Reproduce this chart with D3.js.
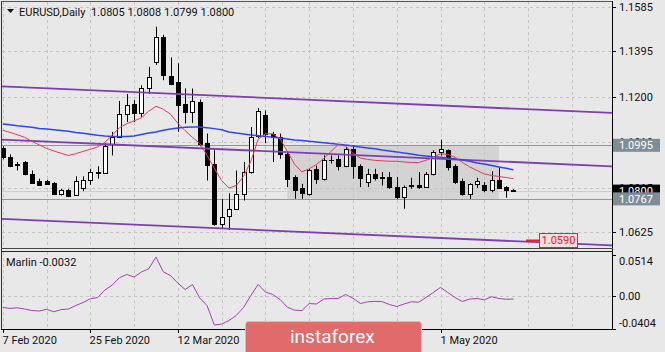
<!DOCTYPE html>
<html>
<head>
<meta charset="utf-8">
<script src="https://cdn.jsdelivr.net/npm/d3@7/dist/d3.min.js"></script>
<style>
  body { margin: 0; background: #e8e8e8; }
  svg { display: block; font-family: Roboto, "Liberation Sans", sans-serif; }
</style>
</head>
<body>
<div id="chart"></div>
<script>
// EURUSD daily, 7 Feb - 15 May 2020
const dates = [
  "2020-02-07","2020-02-10","2020-02-11","2020-02-12","2020-02-13","2020-02-14","2020-02-17","2020-02-18","2020-02-19","2020-02-20",
  "2020-02-21","2020-02-24","2020-02-25","2020-02-26","2020-02-27","2020-02-28","2020-03-02","2020-03-03","2020-03-04","2020-03-05",
  "2020-03-06","2020-03-09","2020-03-10","2020-03-11","2020-03-12","2020-03-13","2020-03-16","2020-03-17","2020-03-18","2020-03-19",
  "2020-03-20","2020-03-23","2020-03-24","2020-03-25","2020-03-26","2020-03-27","2020-03-30","2020-03-31","2020-04-01","2020-04-02",
  "2020-04-03","2020-04-06","2020-04-07","2020-04-08","2020-04-09","2020-04-10","2020-04-13","2020-04-14","2020-04-15","2020-04-16",
  "2020-04-17","2020-04-20","2020-04-21","2020-04-22","2020-04-23","2020-04-24","2020-04-27","2020-04-28","2020-04-29","2020-04-30",
  "2020-05-01","2020-05-04","2020-05-05","2020-05-06","2020-05-07","2020-05-08","2020-05-11","2020-05-12","2020-05-13","2020-05-14",
  "2020-05-15"];

const open = [
  1.0982,1.0945,1.0914,1.0924,1.0871,1.0842,1.0841,1.0836,1.0789,1.0803,
  1.0784,1.0814,1.0848,1.0877,1.0878,1.0999,1.1030,1.1130,1.1170,1.1133,
  1.1237,1.1351,1.1455,1.1290,1.1265,1.1170,1.1137,1.1180,1.1006,1.0914,
  1.0661,1.0693,1.0725,1.0786,1.0881,1.1033,1.1123,1.1045,1.1030,1.0959,
  1.0860,1.0813,1.0789,1.0895,1.0853,1.0931,1.0938,1.0909,1.0981,1.0909,
  1.0838,1.0871,1.0857,1.0860,1.0817,1.0777,1.0822,1.0827,1.0817,1.0874,
  1.0966,1.0974,1.0909,1.0841,1.0789,1.0831,1.0828,1.0803,1.0848,1.0817,
  1.0805];
const high = [
  1.0991,1.0956,1.0924,1.0928,1.0888,1.0853,1.0848,1.0838,1.0810,1.0810,
  1.0863,1.0863,1.0895,1.0906,1.1003,1.1052,1.1184,1.1213,1.1187,1.1251,
  1.1329,1.1500,1.1465,1.1369,1.1344,1.1237,1.1237,1.1190,1.1045,1.0974,
  1.0767,1.0791,1.0888,1.0924,1.1073,1.1153,1.1144,1.1052,1.1045,1.0969,
  1.0867,1.0831,1.0895,1.0909,1.0952,1.0952,1.0952,1.0988,1.0995,1.0914,
  1.0895,1.0895,1.0881,1.0881,1.0860,1.0824,1.0857,1.0881,1.0881,1.0974,
  1.1019,1.0977,1.0914,1.0853,1.0834,1.0857,1.0838,1.0884,1.0900,1.0821,
  1.0808];
const low = [
  1.0935,1.0902,1.0888,1.0867,1.0831,1.0824,1.0828,1.0783,1.0781,1.0777,
  1.0781,1.0800,1.0827,1.0853,1.0875,1.0952,1.1028,1.1094,1.1094,1.1116,
  1.1213,1.1337,1.1272,1.1251,1.1052,1.1088,1.1090,1.0991,1.0845,1.0653,
  1.0639,1.0635,1.0720,1.0760,1.0874,1.1025,1.1004,1.0924,1.0938,1.0817,
  1.0767,1.0767,1.0781,1.0831,1.0845,1.0917,1.0888,1.0902,1.0853,1.0817,
  1.0817,1.0845,1.0824,1.0810,1.0767,1.0725,1.0810,1.0810,1.0814,1.0867,
  1.0951,1.0888,1.0831,1.0781,1.0767,1.0814,1.0795,1.0795,1.0810,1.0772,
  1.0799];
const close = [
  1.0944,1.0906,1.0910,1.0871,1.0836,1.0827,1.0831,1.0786,1.0803,1.0781,
  1.0845,1.0848,1.0881,1.0880,1.0991,1.1029,1.1130,1.1166,1.1133,1.1237,
  1.1284,1.1455,1.1294,1.1258,1.1166,1.1137,1.1183,1.1002,1.0912,1.0661,
  1.0689,1.0725,1.0789,1.0881,1.1030,1.1140,1.1045,1.1030,1.0959,1.0853,
  1.0803,1.0791,1.0888,1.0853,1.0931,1.0933,1.0909,1.0981,1.0909,1.0857,
  1.0874,1.0857,1.0858,1.0817,1.0774,1.0817,1.0824,1.0817,1.0874,1.0966,
  1.0981,1.0902,1.0838,1.0786,1.0831,1.0841,1.0803,1.0848,1.0814,1.0806,
  1.0800];

// moving averages as drawn on the chart (red = fast, blue = slow)
const maFast = [
  1.1059,1.1050,1.1040,1.1029,1.1012,1.0997,1.0982,1.0971,1.0961,1.0952,
  1.0959,1.0969,1.0978,1.0988,1.1008,1.1038,1.1070,1.1087,1.1099,1.1112,
  1.1140,1.1161,1.1149,1.1127,1.1089,1.1057,1.1029,1.1003,1.0952,1.0897,
  1.0845,1.0813,1.0824,1.0862,1.0927,1.1020,1.1044,1.1044,1.1023,1.0969,
  1.0914,1.0882,1.0895,1.0914,1.0939,1.0969,1.0999,1.0991,1.0961,1.0941,
  1.0935,1.0931,1.0929,1.0927,1.0927,1.0924,1.0922,1.0922,1.0931,1.0944,
  1.0959,1.0956,1.0944,1.0922,1.0903,1.0888,1.0873,1.0867,1.0862,1.0858,
  1.0853];
const maSlow = [
  1.1086,1.1082,1.1078,1.1075,1.1072,1.1067,1.1064,1.1061,1.1058,1.1055,
  1.1050,1.1046,1.1042,1.1038,1.1035,1.1033,1.1032,1.1032,1.1035,1.1041,
  1.1047,1.1052,1.1059,1.1064,1.1069,1.1072,1.1073,1.1073,1.1070,1.1066,
  1.1061,1.1052,1.1047,1.1043,1.1039,1.1036,1.1033,1.1029,1.1026,1.1022,
  1.1018,1.1015,1.1012,1.1009,1.1006,1.1003,1.0999,1.0996,1.0992,1.0988,
  1.0984,1.0980,1.0975,1.0971,1.0967,1.0962,1.0958,1.0953,1.0949,1.0946,
  1.0944,1.0941,1.0937,1.0932,1.0927,1.0920,1.0915,1.0909,1.0903,1.0897,
  1.0891];

const marlin = [
  -0.0138,-0.0148,-0.0141,-0.0156,-0.0175,-0.0181,-0.0160,-0.0190,-0.0163,-0.0156,
  -0.0113,-0.0076,-0.0029,-0.0014,0.0079,0.0141,0.0232,0.0272,0.0241,0.0303,
  0.0342,0.0489,0.0306,0.0259,0.0166,0.0086,0.0148,-0.0020,-0.0113,-0.0355,
  -0.0342,-0.0299,-0.0237,-0.0138,0.0011,0.0148,0.0055,0.0024,-0.0038,-0.0132,
  -0.0171,-0.0175,-0.0088,-0.0094,-0.0032,-0.0026,-0.0026,0.0024,-0.0022,-0.0088,
  -0.0067,-0.0061,-0.0065,-0.0100,-0.0125,-0.0094,-0.0066,-0.0072,-0.0014,0.0048,
  0.0113,0.0048,-0.0014,-0.0063,-0.0032,-0.0026,-0.0042,-0.0004,-0.0026,-0.0035,
  -0.0032];

const priceTicks = [1.1585, 1.1395, 1.1200, 1.1010, 1.0815, 1.0625];
const marlinTicks = [0.0514, 0.00, -0.0404];
// date labels that are not hidden by the watermark
const dateTickBars = [0, 12, 24, 60];

// analyst objects: channel (bar index, price pairs), levels, zone
const channelTop = [[0, 1.1246], [70, 1.1151]];
const channelMid = [[0, 1.1019], [70, 1.0924]];
const channelBot = [[0, 1.0682], [70, 1.0587]];
const levels = [1.0995, 1.0767];
const zoneBars = [39, 68];
const zonePrices = [1.0995, 1.0767];
const target = 1.0590;

const W = 665, H = 352;
const plotL = 2, plotR = 612, mainT = 2, mainB = 247.5, subT = 252, subB = 329;
const n = dates.length;
const last = n - 1;

const svg = d3.select("#chart").append("svg")
  .attr("width", W)
  .attr("height", H);

svg.append("rect").attr("width", W).attr("height", H).attr("fill", "#e8e8e8");

const x = d3.scaleLinear().domain([-0.1, 83.5]).range([plotL, plotR]);
const y = d3.scaleLinear().domain([1.0560, 1.1605]).range([mainB, mainT]);
const ym = d3.scaleLinear().domain([-0.0404, 0.0514]).range([subB, 255]);
const px = i => Math.round(x(i)) + 0.5;

const defs = svg.append("defs");
defs.append("clipPath").attr("id", "clipMain")
  .append("rect").attr("x", plotL).attr("y", mainT).attr("width", plotR - plotL).attr("height", mainB - mainT);
defs.append("clipPath").attr("id", "clipSub")
  .append("rect").attr("x", plotL).attr("y", subT).attr("width", plotR - plotL).attr("height", subB - subT);

const main = svg.append("g").attr("clip-path", "url(#clipMain)");
const sub = svg.append("g").attr("clip-path", "url(#clipSub)");

// shaded zone
main.append("rect")
  .attr("x", x(zoneBars[0]))
  .attr("y", y(zonePrices[0]))
  .attr("width", x(zoneBars[1]) - x(zoneBars[0]))
  .attr("height", y(zonePrices[1]) - y(zonePrices[0]))
  .attr("fill", "#d3d3d3");

// grid
const gridBars = d3.range(0, 84, 6);
[main, sub].forEach((g, k) => {
  g.selectAll(".vg").data(gridBars).enter().append("line")
    .attr("x1", d => px(d)).attr("x2", d => px(d))
    .attr("y1", k ? subT : mainT).attr("y2", k ? subB : mainB)
    .attr("stroke", "#c4c4c4").attr("stroke-dasharray", "3,3");
});
main.selectAll(".hg").data(priceTicks).enter().append("line")
  .attr("x1", plotL).attr("x2", plotR)
  .attr("y1", d => Math.round(y(d)) + 0.5).attr("y2", d => Math.round(y(d)) + 0.5)
  .attr("stroke", "#c4c4c4").attr("stroke-dasharray", "3,3");
sub.append("line")
  .attr("x1", plotL).attr("x2", plotR)
  .attr("y1", Math.round(ym(0)) + 0.5).attr("y2", Math.round(ym(0)) + 0.5)
  .attr("stroke", "#c4c4c4").attr("stroke-dasharray", "3,3");

// bid line and horizontal levels
main.append("line")
  .attr("x1", plotL).attr("x2", plotR)
  .attr("y1", Math.round(y(close[last])) + 0.5).attr("y2", Math.round(y(close[last])) + 0.5)
  .attr("stroke", "#cfcfcf");
main.selectAll(".lvl").data(levels).enter().append("line")
  .attr("x1", plotL).attr("x2", plotR)
  .attr("y1", d => Math.round(y(d)) + 0.5).attr("y2", d => Math.round(y(d)) + 0.5)
  .attr("stroke", "#8b98a5");

// candles
const cg = main.append("g");
d3.range(n).forEach(i => {
  const up = close[i] >= open[i];
  const cx = px(i);
  cg.append("line")
    .attr("x1", cx).attr("x2", cx)
    .attr("y1", y(high[i])).attr("y2", y(low[i]))
    .attr("stroke", "#000");
  const top = Math.round(y(Math.max(open[i], close[i])));
  const bot = Math.round(y(Math.min(open[i], close[i])));
  if (bot - top < 1) {
    cg.append("line")
      .attr("x1", cx - 2.5).attr("x2", cx + 2.5)
      .attr("y1", top + 0.5).attr("y2", top + 0.5)
      .attr("stroke", "#000");
  } else {
    cg.append("rect")
      .attr("x", cx - 2).attr("y", top + 0.5)
      .attr("width", 4).attr("height", bot - top)
      .attr("fill", up ? "#fff" : "#000")
      .attr("stroke", "#000");
  }
});

// trend channel (rays across the whole window)
function ray(pts) {
  const [[i0, p0], [i1, p1]] = pts;
  const s = (p1 - p0) / (i1 - i0);
  const a = x.domain()[0], b = x.domain()[1];
  return [[a, p0 + s * (a - i0)], [b, p0 + s * (b - i0)]];
}
const chLine = d3.line().x(d => x(d[0])).y(d => y(d[1]));
[channelTop, channelMid, channelBot].forEach(c => {
  main.append("path")
    .attr("d", chLine(ray(c)))
    .attr("fill", "none")
    .attr("stroke", "#7d3fb4")
    .attr("stroke-width", 1.8);
});

// moving averages
const maLine = d3.line().x((d, i) => x(i)).y(d => y(d));
main.append("path").attr("d", maLine(maSlow))
  .attr("fill", "none").attr("stroke", "#2f45f2").attr("stroke-width", 1.5);
main.append("path").attr("d", maLine(maFast))
  .attr("fill", "none").attr("stroke", "#e8385c").attr("stroke-width", 1);

// target marker
const ty = Math.round(y(target)) + 0.5;
main.append("line").attr("x1", 526).attr("x2", 539).attr("y1", ty).attr("y2", ty)
  .attr("stroke", "#e8202a").attr("stroke-width", 2);

// marlin line
const mLine = d3.line().x((d, i) => x(i)).y(d => ym(d));
sub.append("path").attr("d", mLine(marlin))
  .attr("fill", "none").attr("stroke", "#a442b4").attr("stroke-width", 1);

// frames
svg.append("line").attr("x1", 1.5).attr("x2", 1.5).attr("y1", 1).attr("y2", subB + 0.5).attr("stroke", "#333");
svg.append("line").attr("x1", 1).attr("x2", plotR).attr("y1", 1.5).attr("y2", 1.5).attr("stroke", "#555");
svg.append("line").attr("x1", plotR + 0.5).attr("x2", plotR + 0.5).attr("y1", 1).attr("y2", subB + 0.5).attr("stroke", "#000");
svg.append("line").attr("x1", 1).attr("x2", plotR + 1).attr("y1", 248.5).attr("y2", 248.5).attr("stroke", "#444");
svg.append("line").attr("x1", 1).attr("x2", plotR + 1).attr("y1", 251.5).attr("y2", 251.5).attr("stroke", "#222");
svg.append("line").attr("x1", 1).attr("x2", plotR + 1).attr("y1", subB + 0.5).attr("y2", subB + 0.5).attr("stroke", "#000");

// price axis
const axisG = svg.append("g").style("font-size", "11px").attr("fill", "#111");
priceTicks.forEach(p => {
  const yy = Math.round(y(p)) + 0.5;
  axisG.append("line").attr("x1", plotR).attr("x2", plotR + 4).attr("y1", yy).attr("y2", yy).attr("stroke", "#000");
  axisG.append("text").attr("x", 619).attr("y", yy).attr("dy", "0.36em").text(p.toFixed(4));
});

function priceBox(p, bg, fg) {
  const yy = y(p);
  axisG.append("rect").attr("x", plotR + 1).attr("y", yy - 6.5).attr("width", 47).attr("height", 13).attr("fill", bg);
  axisG.append("text").attr("x", 619).attr("y", yy).attr("dy", "0.36em").attr("fill", fg).text(p.toFixed(4));
}
priceBox(levels[0], "#7f8d99", "#fff");
priceBox(close[last], "#000", "#fff");
priceBox(levels[1], "#7f8d99", "#fff");

// target label
const tb = svg.append("g");
tb.append("rect").attr("x", 539.5).attr("y", Math.round(y(target)) - 6.5).attr("width", 38).attr("height", 14)
  .attr("fill", "#f7dede").attr("stroke", "#e8202a");
tb.append("text").attr("x", 558.5).attr("y", y(target)).attr("dy", "0.36em")
  .attr("text-anchor", "middle").attr("fill", "#e8202a").style("font-size", "11px").text(target.toFixed(4));

// marlin axis
const mOff = [6, 0, -6];
marlinTicks.forEach((v, k) => {
  const yy = Math.round(ym(v)) + 0.5;
  axisG.append("line").attr("x1", plotR).attr("x2", plotR + 4).attr("y1", yy).attr("y2", yy).attr("stroke", "#000");
  axisG.append("text").attr("x", 619).attr("y", yy + mOff[k]).attr("dy", "0.36em")
    .text(v === 0 ? "0.00" : v.toFixed(4));
});

// time axis
const fmt = d3.timeFormat("%-d %b %Y");
const parse = d3.timeParse("%Y-%m-%d");
dateTickBars.forEach(i => {
  const xx = px(i);
  axisG.append("line").attr("x1", xx).attr("x2", xx).attr("y1", subB).attr("y2", subB + 4).attr("stroke", "#000");
  axisG.append("text").attr("x", xx - 1).attr("y", 344).text(fmt(parse(dates[i])));
});

// titles
svg.append("path").attr("d", "M7,9 L14,9 L10.5,13 Z").attr("fill", "#111");
svg.append("text").attr("x", 19).attr("y", 16).style("font-size", "11px").attr("fill", "#111")
  .attr("xml:space", "preserve")
  .text("EURUSD,Daily  " + [open[last], high[last], low[last], close[last]].map(v => v.toFixed(4)).join(" "));
svg.append("text").attr("x", 6).attr("y", 266).style("font-size", "11px").attr("fill", "#111")
  .text("Marlin " + marlin[last].toFixed(4));

// watermark
const wm = svg.append("g");
wm.append("rect").attr("x", 245.5).attr("y", 321.5).attr("width", 176).attr("height", 40).attr("rx", 3)
  .attr("fill", "#e16a6a").attr("stroke", "#f2b0b0");
wm.append("text").attr("x", 290).attr("y", 343).style("font-size", "19px").attr("fill", "#fff")
  .text("instaforex");
</script>
</body>
</html>
